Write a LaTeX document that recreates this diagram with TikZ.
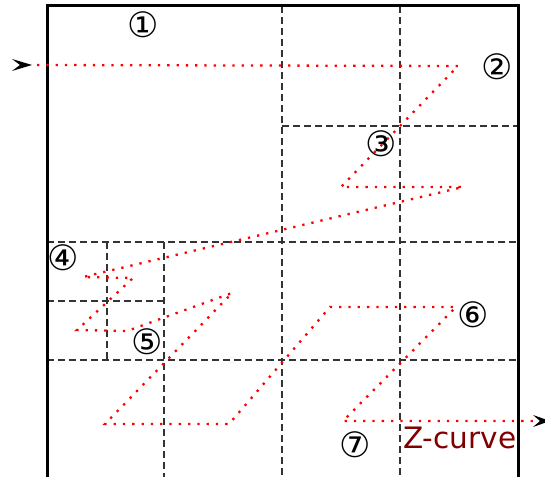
\documentclass[tikz,border=0pt]{standalone}
\usepackage{fontspec}
\setmainfont{DejaVu Sans}
\definecolor{zred}{RGB}{128,0,0}
\begin{document}
\begin{tikzpicture}[x=1pt,y=-1pt,
  gridline/.style={draw=black!80, line width=1.2pt, dash pattern=on 7pt off 4pt},
  zpath/.style={draw=red, line width=2.3pt, dash pattern=on 2.3pt off 7pt},
  num/.style={font=\fontsize{35}{35}\selectfont, inner sep=0pt},
  frame/.style={draw=black, line width=3pt},
  tipshape/.style={fill=black}]
\useasboundingbox (0,0) rectangle (545,476);
\clip (0,0) rectangle (545,476);
% grid
\draw[gridline] (282,6) -- (282,490);
\draw[gridline] (400,6) -- (400,490);
\draw[gridline] (282,126) -- (518,126);
\draw[gridline] (47,242) -- (518,242);
\draw[gridline] (47,360) -- (518,360);
\draw[gridline] (164,242) -- (164,490);
\draw[gridline] (107,242) -- (107,360);
\draw[gridline] (47,301) -- (164,301);
% frame
\draw[frame] (47,6) rectangle (518,495);
% curve points
\coordinate (p0) at (37,65);
\coordinate (p1) at (458,66);
\coordinate (p2) at (341,187);
\coordinate (p3) at (463,187);
\coordinate (p4) at (83,277);
\coordinate (p5) at (133,278);
\coordinate (p6) at (77,330);
\coordinate (p7) at (127,331);
\coordinate (p8) at (232,293);
\coordinate (p9) at (105,424);
\coordinate (p10) at (229,424);
\coordinate (p11) at (330,307);
\coordinate (p12) at (456,307);
\coordinate (p13) at (343,421);
\coordinate (p14) at (533,421);
\draw[zpath] (p0) -- (p1) -- (p2) -- (p3) -- (p4) -- (p5) -- (p6) -- (p7) -- (p8) -- (p9) -- (p10) -- (p11) -- (p12) -- (p13) -- (p14);
% arrow heads
\fill[tipshape] (12,59) -- (32,65) -- (12,71) -- (20,65) -- cycle;
\fill[tipshape] (533,415) -- (550,421) -- (533,427) -- (540,421) -- cycle;
% labels
\node[num] (n1) at (143.5,24.5) {①};
\node[num] (n2) at (497,67) {②};
\node[num] (n3) at (381,144) {③};
\node[num] (n4) at (63.5,258) {④};
\node[num] (n5) at (147,342) {⑤};
\node[num] (n6) at (473,315) {⑥};
\node[num] (n7) at (355,445) {⑦};
\node[font=\fontsize{29.5}{29.5}\selectfont, text=zred, inner sep=0pt, anchor=base west] (zc) at (403,448) {Z-curve};
\end{tikzpicture}
\end{document}
